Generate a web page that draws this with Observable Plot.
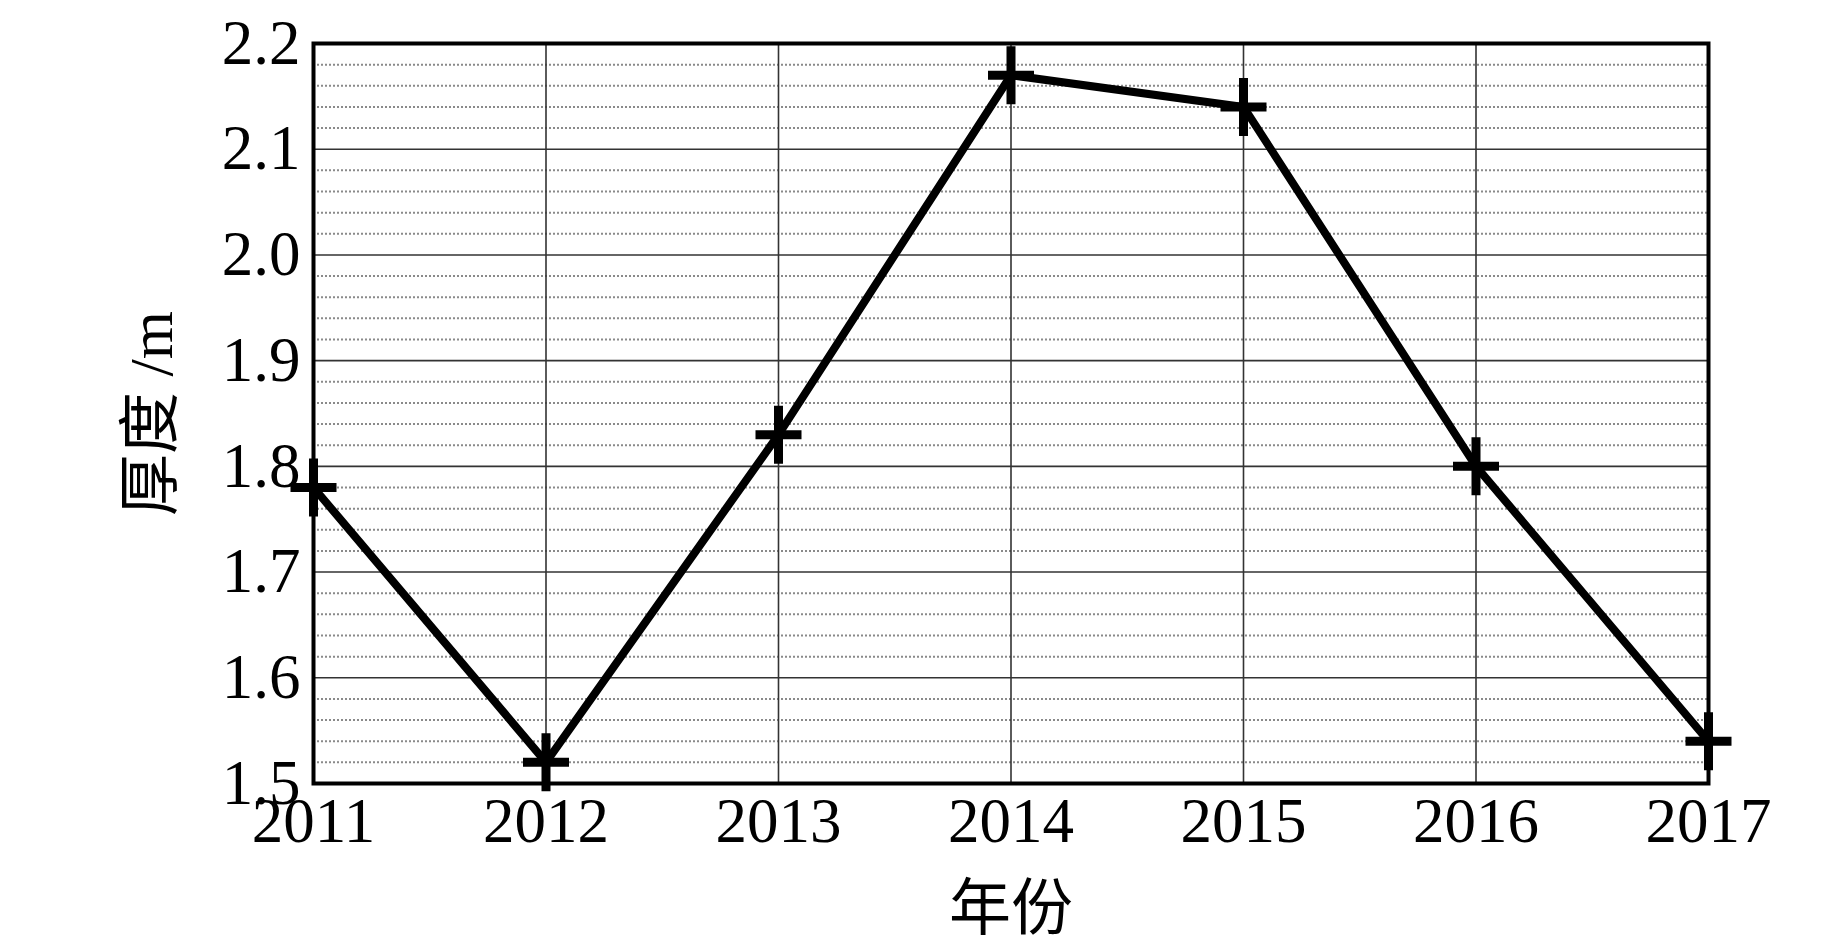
<!DOCTYPE html>
<html>
<head>
<meta charset="utf-8">
<script src="https://cdn.jsdelivr.net/npm/d3@7"></script>
<script src="https://cdn.jsdelivr.net/npm/@observablehq/plot@0.6"></script>
<style>
  html, body { margin: 0; padding: 0; background: #fff; }
  #chart svg { display: block; }
</style>
</head>
<body>
<div id="chart"></div>
<script>
// ---- data ----
const years = [2011, 2012, 2013, 2014, 2015, 2016, 2017];
const thickness = [1.78, 1.52, 1.83, 2.17, 2.14, 1.80, 1.54];
const yMajorTicks = [1.5, 1.6, 1.7, 1.8, 1.9, 2.0, 2.1, 2.2];
const yMinorTicks = [1.52, 1.54, 1.56, 1.58, 1.62, 1.64, 1.66, 1.68,
                     1.72, 1.74, 1.76, 1.78, 1.82, 1.84, 1.86, 1.88,
                     1.92, 1.94, 1.96, 1.98, 2.02, 2.04, 2.06, 2.08,
                     2.12, 2.14, 2.16, 2.18];
const xLabel = "年份";
const yLabel = "厚度 /m";

const data = years.map((y, i) => ({year: y, value: thickness[i]}));

const FONT = "'Liberation Serif', 'Noto Sans CJK SC', serif";

// cross marker with unequal arms
const crossSymbol = {
  draw(ctx) {
    ctx.moveTo(-23, 0); ctx.lineTo(23, 0);
    ctx.moveTo(0, -29); ctx.lineTo(0, 29);
  }
};

const chart = Plot.plot({
  width: 1843,
  height: 945,
  marginLeft: 313,
  marginRight: 135,
  marginTop: 43,
  marginBottom: 162,
  style: {fontFamily: FONT, background: "#fff", color: "#000"},
  x: {domain: [2011, 2017], axis: null},
  y: {domain: [1.5, 2.2], axis: null},
  marks: [
    Plot.ruleY(yMinorTicks, {stroke: "#8a8a8a", strokeWidth: 2, strokeDasharray: "2,2"}),
    Plot.ruleY(yMajorTicks, {stroke: "#333", strokeWidth: 1.6}),
    Plot.ruleX(years, {stroke: "#333", strokeWidth: 1.6}),
    Plot.frame({stroke: "#000", strokeWidth: 4}),
    Plot.axisX(years, {anchor: "bottom", tickSize: 0, tickPadding: 14, fontSize: 63,
      fontFamily: FONT, tickFormat: d => String(d), label: null}),
    Plot.axisY(yMajorTicks, {anchor: "left", tickSize: 0, tickPadding: 13, fontSize: 63,
      fontFamily: FONT, tickFormat: d => d.toFixed(1), label: null}),
    Plot.line(data, {x: "year", y: "value", stroke: "#000", strokeWidth: 8, strokeLinejoin: "miter"}),
    Plot.dot(data, {x: "year", y: "value", symbol: crossSymbol, r: 3, fill: "none", stroke: "#000", strokeWidth: 9}),
    Plot.text([yLabel], {text: d => d, frameAnchor: "left", dx: -161, rotate: -90,
      fontSize: 62, fontFamily: FONT, textAnchor: "middle", lineAnchor: "middle", fill: "#000"}),
    Plot.text([xLabel], {text: d => d, frameAnchor: "bottom", dy: 127,
      fontSize: 62, fontFamily: FONT, textAnchor: "middle", lineAnchor: "middle", fill: "#000"})
  ]
});

document.getElementById("chart").appendChild(chart);
</script>
</body>
</html>
